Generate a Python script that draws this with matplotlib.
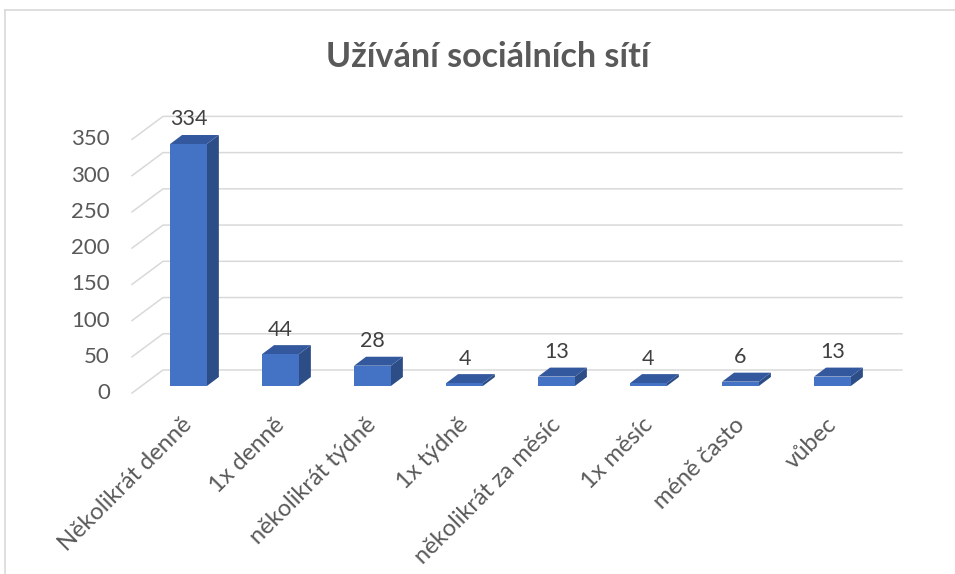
"""
Graf: Užívání sociálních sítí (sloupcový graf s 3D efektem jako v Excelu).
"""

import matplotlib.pyplot as plt
from matplotlib.patches import Polygon, Rectangle
from matplotlib.lines import Line2D

# --- Data ---
kategorie = [
    "Několikrát denně",
    "1x denně",
    "několikrát týdně",
    "1x týdně",
    "několikrát za měsíc",
    "1x měsíc",
    "méně často",
    "vůbec",
]
pocty = [334, 44, 28, 4, 13, 4, 6, 13]
osa_y = [0, 50, 100, 150, 200, 250, 300, 350]

titulek = "Užívání sociálních sítí"

# --- Styl ---
FONT = ["Lato", "DejaVu Sans"]
C_FRONT = "#4472C4"
C_SIDE = "#2C4D86"
C_TOP = "#34589E"
C_GRID = "#D9D9D9"
C_TEXT = "#595959"
C_LABEL = "#404040"

# 3D posuny (v jednotkach os: kategorie / hodnota)
SIRKA = 0.40          # sirka prednich sten sloupcu
HLOUBKA_X = 0.13      # hloubka sloupce ve smeru x
HLOUBKA_Y = 12.4      # hloubka sloupce ve smeru y
PRED_X, PRED_Y = -0.102, -9.7   # predni rovina podlahy
ZAD_X, ZAD_Y = 0.235, 22.1      # zadni stena
X_MIN, X_MAX = -0.512, 7.52

fig = plt.figure(figsize=(9.55, 5.74), dpi=100)
ax = fig.add_axes([142.5 / 955, (574 - 386) / 574, 736 / 955, 253.6 / 574])
ax.set_xlim(-0.5, 7.5)
ax.set_ylim(0, 350)
ax.axis("off")

# ramecek grafu (jen horni a leva hrana je videt)
fig.add_artist(Line2D([4.5 / 955, 1], [1 - 9.5 / 574, 1 - 9.5 / 574],
                      transform=fig.transFigure, color=C_GRID, lw=1.2))
fig.add_artist(Line2D([4.5 / 955, 4.5 / 955], [0, 1 - 9.5 / 574],
                      transform=fig.transFigure, color=C_GRID, lw=1.2))

# mrizka: sikma cast na leve strane + vodorovna cara na zadni stene
for v in osa_y:
    ax.plot([X_MIN + PRED_X, X_MIN + ZAD_X, X_MAX + ZAD_X],
            [v + PRED_Y, v + ZAD_Y, v + ZAD_Y],
            color=C_GRID, lw=1.1, clip_on=False, zorder=1)
    ax.annotate(str(v), (X_MIN + PRED_X, v + PRED_Y), xytext=(-16, 0),
                textcoords="offset points", ha="right", va="center",
                fontsize=16, color=C_TEXT, family=FONT, annotation_clip=False)

# sloupce
for i, v in enumerate(pocty):
    x0 = i - SIRKA / 2
    x1 = i + SIRKA / 2
    ax.add_patch(Polygon([(x1, 0), (x1 + HLOUBKA_X, HLOUBKA_Y),
                          (x1 + HLOUBKA_X, v + HLOUBKA_Y), (x1, v)],
                         closed=True, fc=C_SIDE, ec="none", zorder=3, clip_on=False))
    ax.add_patch(Polygon([(x0, v), (x1, v), (x1 + HLOUBKA_X, v + HLOUBKA_Y),
                          (x0 + HLOUBKA_X, v + HLOUBKA_Y)],
                         closed=True, fc=C_TOP, ec="none", zorder=3, clip_on=False))
    ax.add_patch(Rectangle((x0, 0), SIRKA, v, fc=C_FRONT, ec="none",
                           zorder=4, clip_on=False))
    ax.annotate(str(v), (i, v + HLOUBKA_Y), xytext=(0, 4),
                textcoords="offset points", ha="center", va="bottom",
                fontsize=15.5, color=C_LABEL, family=FONT, annotation_clip=False)
    ax.annotate(kategorie[i], (i, 0), xytext=(-5, -20),
                textcoords="offset points", ha="right", va="top",
                rotation=45, rotation_mode="anchor",
                fontsize=17, color=C_TEXT, family=FONT, annotation_clip=False)

fig.text(488 / 955, 1 - 67 / 574, titulek, ha="center", va="baseline",
         fontsize=24.5, fontweight="bold", color=C_TEXT, family=FONT)

fig.savefig("out.png", dpi=100)
